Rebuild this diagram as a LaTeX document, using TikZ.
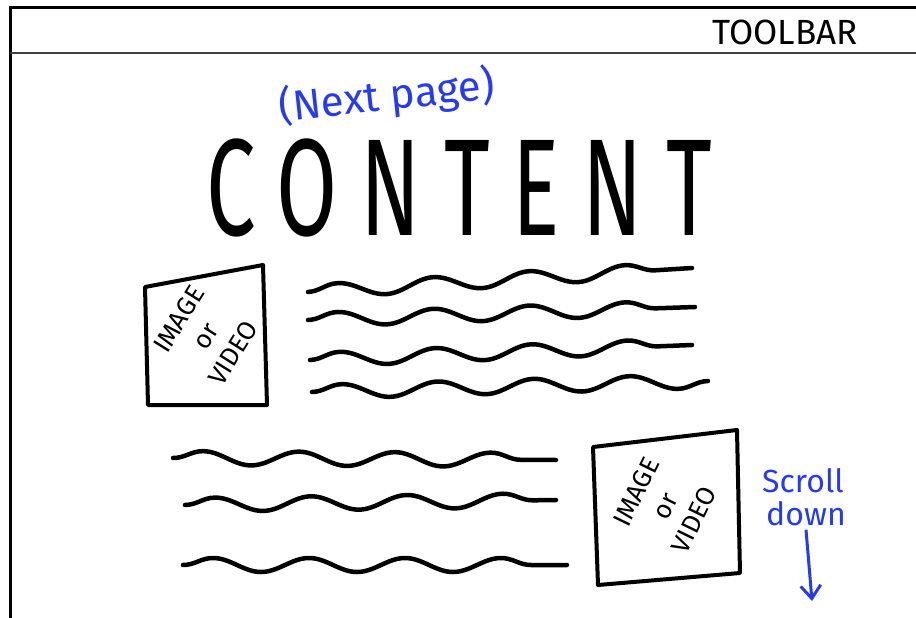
\documentclass[tikz,border=0pt]{standalone}
\usepackage{fontspec}
\newfontfamily\sketchfont{Fira Sans}
\newfontfamily\headfont[LetterSpace=26]{Fira Sans}
\usetikzlibrary{decorations.pathmorphing,arrows.meta}
\definecolor{penblue}{RGB}{38,58,238}
\tikzset{
  frameline/.style={line width=3pt},
  boxline/.style={line width=4pt, line join=round, line cap=round},
  wave/.style={line width=4.5pt, line cap=round, decorate,
    decoration={snake, segment length=96pt, amplitude=7pt}},
  bluetext/.style={text=penblue, font=\sketchfont\fontsize{32}{34}\selectfont},
  mediatext/.style={align=center, font=\sketchfont\fontsize{26}{32}\selectfont}
}
\begin{document}
\begin{tikzpicture}[x=1pt,y=-1pt]
\useasboundingbox[fill=white] (0,0) rectangle (916,618);
% window frame and toolbar
\draw[frameline] (10,618) -- (10,8) -- (916,8);
\draw[line width=2pt,black!75] (10,53) -- (916,53);
\node[font=\sketchfont\fontsize{35}{36}\selectfont] (toolbar) at (785,32) {TOOLBAR};
% heading
\node[bluetext, font=\sketchfont\fontsize{42}{44}\selectfont, rotate=6] (nextpage) at (387,97) {(Next page)};
\node[font=\headfont\fontsize{138}{140}\selectfont, xscale=0.64] (content) at (459,188) {CONTENT};
% first block
\draw[boxline] (145,287) -- (263,265) -- (267,405) -- (148,405) -- cycle;
\node[mediatext, rotate=58] (media1) at (206,336) {IMAGE\\or\\VIDEO};
\draw[wave] (308,292) -- (692,268);
\draw[wave] (308,320) -- (695,307);
\draw[wave] (310,360) -- (692,345);
\draw[wave] (312,392) -- (708,381);
% second block
\draw[wave] (173,458) -- (556,460);
\draw[wave] (185,505) -- (556,500);
\draw[wave] (183,565) -- (567,565);
\draw[boxline] (593,447) -- (737,430) -- (740,573) -- (598,585) -- cycle;
\node[mediatext, rotate=64] (media2) at (665,506) {IMAGE\\or\\VIDEO};
% scroll hint
\node[bluetext] (scroll) at (803,481) {Scroll};
\node[bluetext] (down) at (806,514) {down};
\coordinate (arrowend) at (812,601);
\draw[penblue, line width=3pt, -{Straight Barb[length=13pt,width=20pt]}] (down.south) -- (arrowend);
\end{tikzpicture}
\end{document}
